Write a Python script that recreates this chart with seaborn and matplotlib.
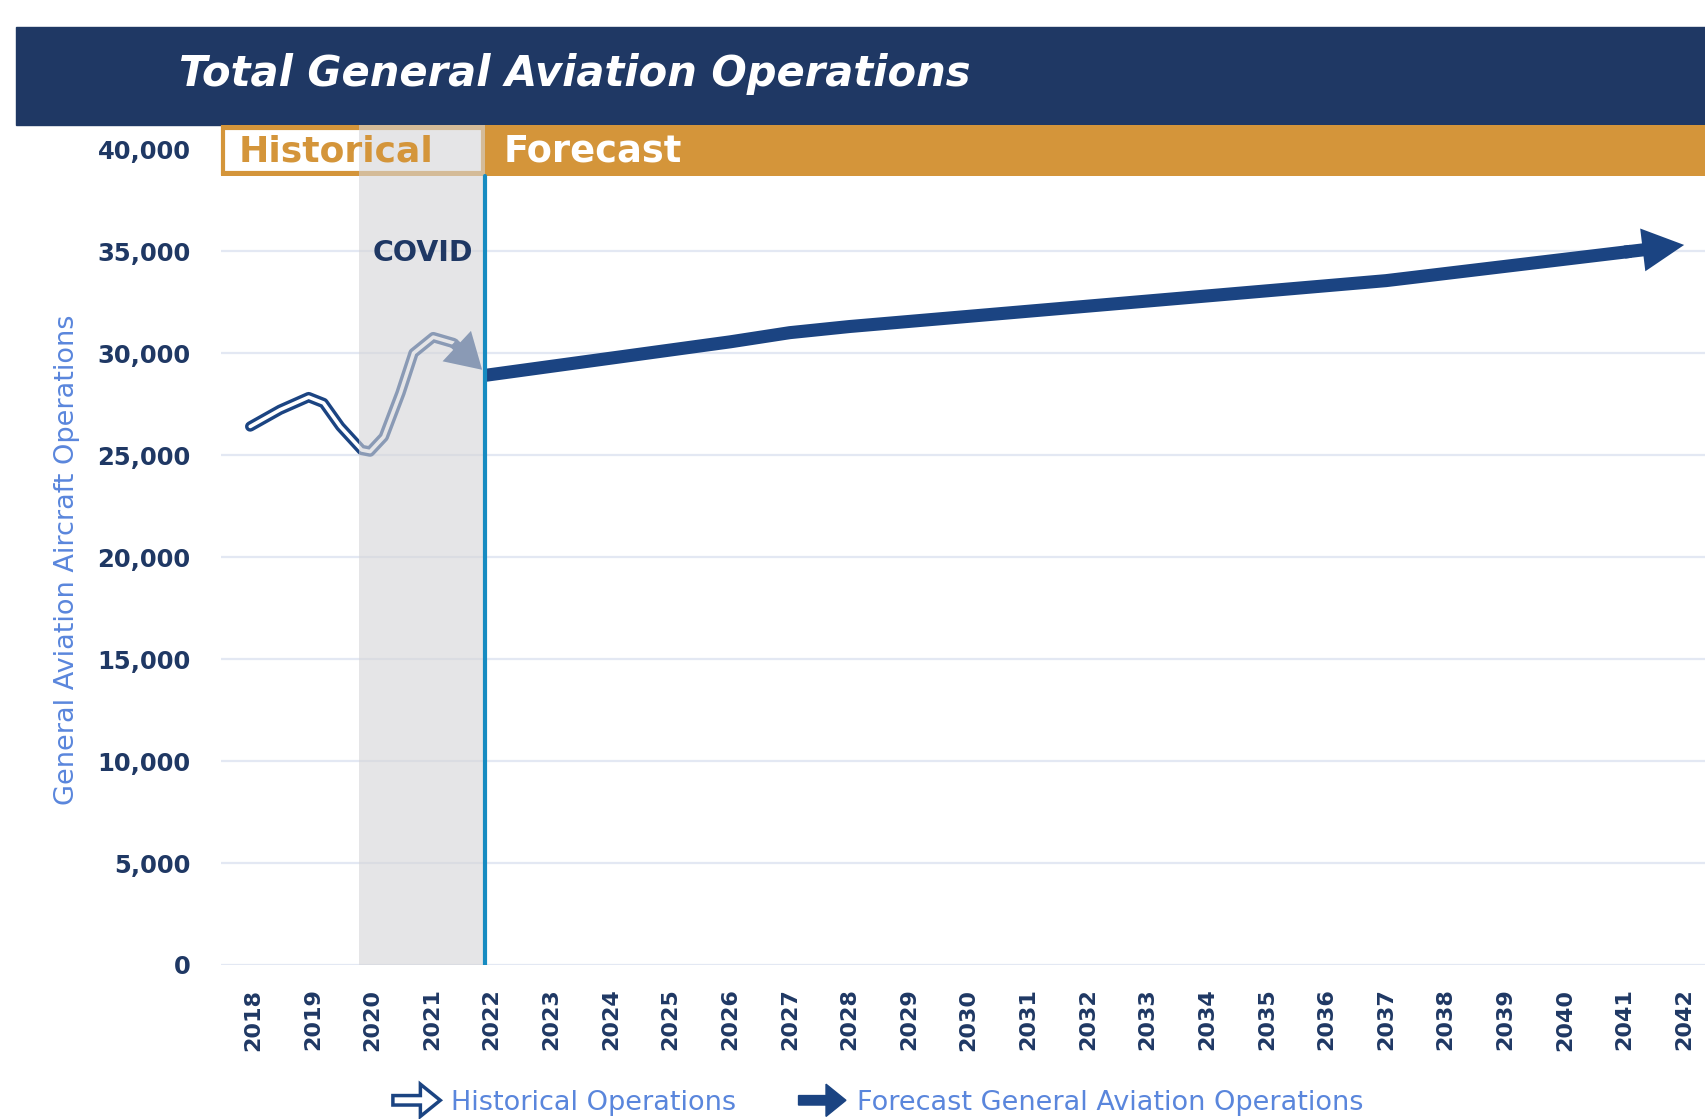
import matplotlib
matplotlib.use("Agg")
import matplotlib.pyplot as plt
import matplotlib.patches as mpatches
from matplotlib.legend_handler import HandlerPatch
import seaborn as sns

# data
years = list(range(2018, 2043))
y_ticks = [0, 5000, 10000, 15000, 20000, 25000, 30000, 35000, 40000]

hist_years = [2017.95, 2018.45, 2018.93, 2019.18, 2019.46, 2019.82, 2019.96, 2020.19,
              2020.47, 2020.69, 2021.02, 2021.36, 2021.84]
hist_ops = [26400, 27220, 27840, 27550, 26400, 25250, 25170, 25890,
            28040, 30000, 30780, 30490, 29180]

fc_years = list(range(2022, 2043))
fc_ops = [28950, 29350, 29750, 30150, 30550, 31000, 31300, 31550, 31800, 32050,
          32300, 32550, 32800, 33050, 33300, 33550, 33900, 34250, 34600, 34950, 35300]

covid_start, covid_end = 2019.78, 2021.88

# colours
navy = "#1f3864"
line_navy = "#1b4482"
orange = "#d4953a"
teal = "#168bc1"
label_blue = "#5a86dc"
grid_col = "#e3e8f3"

sns.set_theme(style="white")
plt.rcParams["font.family"] = ["DejaVu Sans"]

fig = plt.figure(figsize=(17.05, 11.19), dpi=100)
ax = fig.add_axes([221 / 1705, 1 - 965 / 1119, 1 - 221 / 1705, 840 / 1119])

# title band
fig.add_artist(mpatches.Rectangle((16 / 1705, 1 - 125 / 1119), 1, 98 / 1119,
                                  transform=fig.transFigure, color=navy, zorder=0))
fig.text(179 / 1705, 1 - 74 / 1119, "Total General Aviation Operations", color="white",
         fontsize=30, fontweight="bold", fontstyle="italic", ha="left", va="center")

# historical line (hollow look)
sns.lineplot(x=hist_years[:-1], y=hist_ops[:-1], color=line_navy, linewidth=7.5, ax=ax,
             sort=False, solid_capstyle="round", solid_joinstyle="round", zorder=3)
sns.lineplot(x=hist_years[:-1], y=hist_ops[:-1], color="white", linewidth=2.6, ax=ax,
             sort=False, solid_capstyle="round", solid_joinstyle="round", zorder=3.1)
ax.annotate("", xy=(hist_years[-1], hist_ops[-1]), xytext=(hist_years[-2], hist_ops[-2]),
            arrowprops=dict(width=7.5, headwidth=30, headlength=25, shrink=0,
                            color=line_navy, lw=0), zorder=3.2)

# covid shading on top of the line
ax.axvspan(covid_start, covid_end, ymin=0, ymax=1, color="#d5d5d8", alpha=0.6, lw=0, zorder=4)
ax.text((covid_start + covid_end) / 2 + 0.02, 34900, "COVID", color=navy, fontsize=20.5,
        fontweight="bold", ha="center", va="center", zorder=6)

# forecast line
sns.lineplot(x=fc_years[:-1], y=fc_ops[:-1], color=line_navy, linewidth=9.4, ax=ax,
             solid_capstyle="projecting", solid_joinstyle="round", zorder=5)
ax.annotate("", xy=(fc_years[-1], fc_ops[-1]), xytext=(fc_years[-2], fc_ops[-2]),
            arrowprops=dict(width=9.4, headwidth=31, headlength=30, shrink=0,
                            color=line_navy, lw=0), zorder=5)

# divider line
ax.axvline(covid_end, ymin=0, ymax=0.9393, color=teal, lw=3, zorder=7)

# header band with Historical / Forecast
xmin, xmax = 2017.46, 2042.35
trans = ax.get_xaxis_transform()
ax.add_patch(mpatches.Rectangle((xmin, 0.9393), xmax - xmin, 1 - 0.9393, transform=trans,
                                color=orange, lw=0, zorder=2, clip_on=False))
ax.add_patch(mpatches.Rectangle((xmin + 0.03, 0.9393 + 0.003), covid_end - xmin - 0.06,
                                1 - 0.9393 - 0.006, transform=trans, facecolor="white",
                                edgecolor=orange, lw=3, zorder=2.5, clip_on=False))
ax.text(2017.75, 0.969, "Historical", transform=trans, color=orange, fontsize=26,
        fontweight="bold", ha="left", va="center", zorder=6)
ax.text(2022.2, 0.969, "Forecast", transform=trans, color="white", fontsize=26.5,
        fontweight="bold", ha="left", va="center", zorder=6)

ax.set_xlim(xmin, xmax)
ax.set_ylim(0, 41180)
ax.set_yticks(y_ticks, [f"{v:,}" for v in y_ticks], fontsize=17.5, fontweight="bold", color=navy)
ax.set_xticks(years, [str(y) for y in years], fontsize=16, fontweight="bold", color=navy,
              rotation=90)
ax.tick_params(axis="y", length=0, pad=22)
ax.tick_params(axis="x", length=0, pad=17)
ax.yaxis.grid(True, color=grid_col, lw=1.6)
ax.xaxis.grid(False)
ax.set_axisbelow(True)
sns.despine(ax=ax, left=True, bottom=True)
ax.set_xlabel("")
ax.set_ylabel("")

fig.text(67 / 1705, 1 - 560 / 1119, "General Aviation Aircraft Operations", rotation=90,
         color=label_blue, fontsize=19.5, ha="center", va="center")


# legend with arrow icons
def make_arrow(legend, orig_handle, xdescent, ydescent, width, height, fontsize):
    return mpatches.FancyArrow(0, height / 2, width, 0, width=height * 0.5,
                               head_width=height * 1.7, head_length=width * 0.42,
                               length_includes_head=True)


h_hist = mpatches.Patch(facecolor="white", edgecolor=line_navy, linewidth=2.5)
h_fc = mpatches.Patch(facecolor=line_navy, edgecolor=line_navy, linewidth=1)
fig.legend(handles=[h_hist, h_fc],
           labels=["Historical Operations", "Forecast General Aviation Operations"],
           loc="center", bbox_to_anchor=(0.515, 0.0145), ncol=2, frameon=False,
           fontsize=19.5, labelcolor=label_blue,
           handler_map={mpatches.Patch: HandlerPatch(patch_func=make_arrow)},
           handlelength=1.75, handleheight=0.7, handletextpad=0.4, columnspacing=2.3)

fig.savefig("out.png", dpi=100, facecolor="white")
